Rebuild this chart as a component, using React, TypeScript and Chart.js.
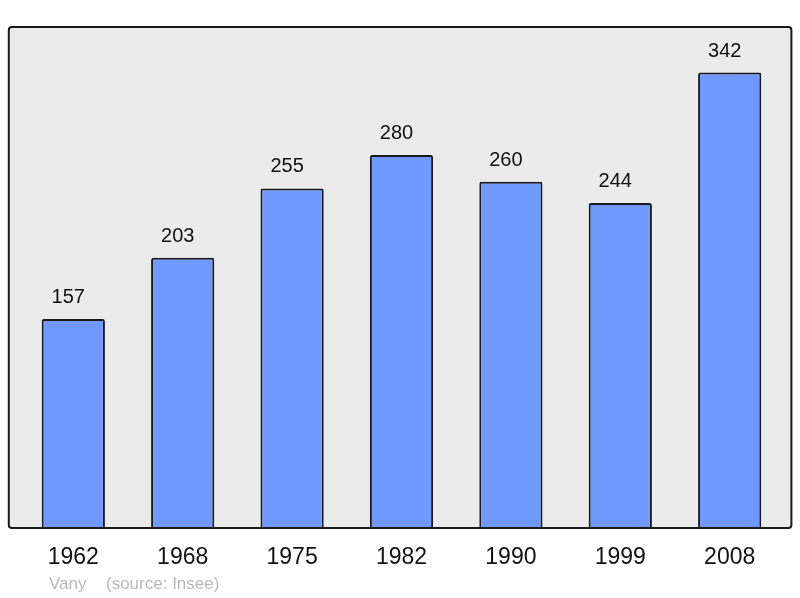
import React, { useEffect, useRef } from "react";
import { Chart, registerables } from "chart.js";

Chart.register(...registerables);

const years: string[] = ["1962", "1968", "1975", "1982", "1990", "1999", "2008"];
const population: number[] = [157, 203, 255, 280, 260, 244, 342];
const footerAuthor = "Vany";
const footerSource = "(source: Insee)";

const FONT = "'Liberation Sans', Arial, sans-serif";

const framePlugin = {
  id: "frame",
  beforeDatasetsDraw(chart: any) {
    const { ctx, chartArea } = chart;
    const l = chartArea.left - 9.8;
    const r = chartArea.right + 7;
    const t = chartArea.top;
    const b = chartArea.bottom;
    ctx.save();
    ctx.beginPath();
    (ctx as any).roundRect(l, t, r - l, b - t, 3);
    ctx.fillStyle = "#ebebeb";
    ctx.fill();
    ctx.restore();
  },
  afterDatasetsDraw(chart: any) {
    const { ctx, chartArea } = chart;
    const l = chartArea.left - 9.8;
    const r = chartArea.right + 7;
    const t = chartArea.top;
    const b = chartArea.bottom;
    ctx.save();
    ctx.beginPath();
    (ctx as any).roundRect(l, t, r - l, b - t, 3);
    ctx.lineWidth = 2;
    ctx.strokeStyle = "#1a1a1a";
    ctx.stroke();
    // value labels
    const meta = chart.getDatasetMeta(0);
    ctx.fillStyle = "#111111";
    ctx.font = `20px ${FONT}`;
    ctx.textAlign = "center";
    ctx.textBaseline = "alphabetic";
    meta.data.forEach((bar: any, i: number) => {
      ctx.fillText(String(population[i]), bar.x - 5, bar.y - 16);
    });
    // footer
    ctx.fillStyle = "#b8b8b8";
    ctx.font = `17px ${FONT}`;
    ctx.textAlign = "left";
    ctx.textBaseline = "middle";
    ctx.fillText(footerAuthor, 49, 584);
    ctx.fillText(footerSource, 106, 584);
    ctx.restore();
  },
};

export default function App() {
  const ref = useRef<HTMLCanvasElement | null>(null);
  useEffect(() => {
    if (!ref.current) return;
    const chart = new Chart(ref.current, {
      type: "bar",
      data: {
        labels: years,
        datasets: [
          {
            data: population,
            backgroundColor: "#7099ff",
            borderColor: "#1a1a1a",
            borderWidth: 2,
            borderRadius: 2,
            borderSkipped: "bottom",
            categoryPercentage: 1,
            barPercentage: 0.578,
          },
        ],
      },
      options: {
        animation: false,
        responsive: true,
        maintainAspectRatio: false,
        layout: { padding: { left: 18.6, right: 15.6, top: 27, bottom: 10.4 } },
        plugins: {
          legend: { display: false },
          tooltip: { enabled: false },
          title: { display: false },
        },
        scales: {
          x: {
            grid: { display: false, drawTicks: false },
            border: { display: false },
            ticks: {
              padding: 16,
              color: "#111111",
              font: { size: 23, family: FONT },
            },
          },
          y: {
            display: false,
            min: 0,
            max: 376.2,
          },
        },
      },
      plugins: [framePlugin],
    });
    return () => chart.destroy();
  }, []);
  return (
    <div style={{ position: "fixed", left: 0, top: 0, width: 800, height: 598, background: "#ffffff" }}>
      <canvas ref={ref} />
    </div>
  );
}
